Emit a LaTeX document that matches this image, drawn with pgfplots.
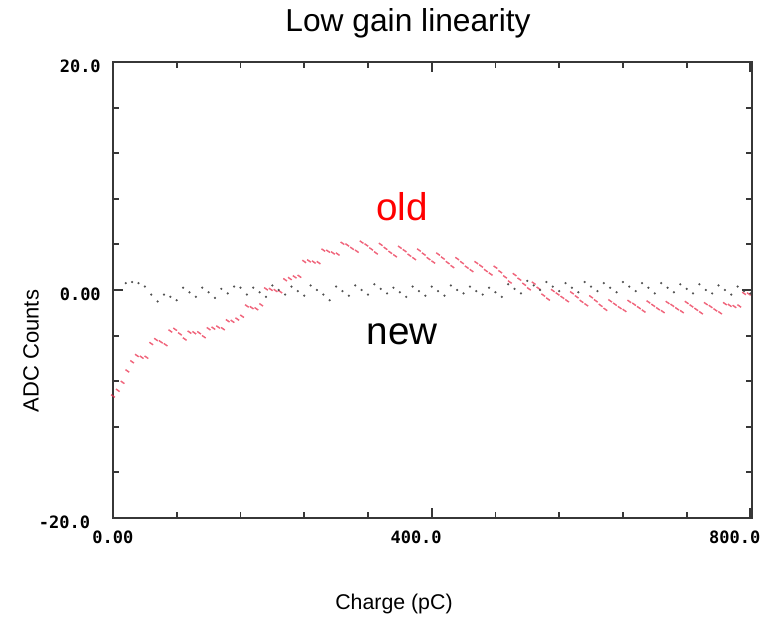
\documentclass[border=0pt]{standalone}
\usepackage{fontspec}
\setmainfont{Liberation Sans}
\newfontfamily\tickfont{DejaVu Sans Mono}
\usepackage{pgfplots}
\pgfplotsset{compat=1.18}

\definecolor{olddots}{RGB}{235,50,80}
\definecolor{newdots}{RGB}{60,60,60}
\definecolor{frame}{RGB}{55,55,55}

\begin{document}
\begin{tikzpicture}
  \begin{axis}[
    at={(0,0)}, anchor=south west,
    scale only axis,
    width=479.25pt, height=342pt,
    xmin=0, xmax=802, ymin=-20, ymax=20,
    clip=false,
    axis line style={frame, line width=1.6pt},
    tick style={frame, line width=1.4pt},
    tick align=inside,
    major tick length=7.5pt,
    minor tick length=4.5pt,
    xtick={0,400,800},
    minor xtick={80,160,240,320,480,560,640,720},
    ytick={-20,0,20},
    minor ytick={-16,-12,-8,-4,4,8,12,16},
    xticklabels={\llap{0}.\rlap{00}, \llap{400}.\rlap{0}, \llap{800}.\rlap{0}},
    yticklabels={-20.0\kern8pt, 0.00, 20.0},
    tick label style={font=\tickfont\bfseries\fontsize{12.75}{14}\selectfont, inner sep=0pt},
    x tick label style={anchor=base, yshift=-19.5pt, xshift=-4pt},
    y tick label style={anchor=east, xshift=-9pt, yshift=-3pt},
  ]
    % old
    \addplot[only marks, mark=-, mark size=1.7pt, color=olddots, opacity=0.75,
      mark options={rotate=-35, line width=1.1pt}] coordinates {
      (0,-9.3) (6,-8.8) (12,-8.1) (18,-7.1) (24,-6.3) (30,-5.75) (36,-5.9) (42,-5.9)
      (48,-4.7) (54,-4.35) (60,-4.55) (66,-4.8) (72,-3.6) (78,-3.45) (84,-3.85) (90,-4.3)
      (96,-3.7) (102,-3.75) (108,-3.75) (114,-4.1) (120,-3.4) (126,-3.35) (132,-3.25) (138,-3.4)
      (144,-2.7) (150,-2.75) (156,-2.55) (162,-2.3) (168,-1.4) (174,-1.55) (180,-1.65) (186,-1.3)
      (192,0.1) (198,0.05) (204,-0.05) (210,-0.15) (216,0.9) (222,1.0) (228,1.15) (234,1.2)
      (240,2.5) (246,2.55) (252,2.45) (258,2.4) (264,3.5) (270,3.4) (276,3.25) (282,3.15)
      (288,4.1) (294,3.95) (300,3.65) (306,3.4) (312,4.2) (318,3.95) (324,3.6) (330,3.25)
      (336,4.0) (342,3.65) (348,3.3) (354,3.0) (360,3.75) (366,3.45) (372,3.05) (378,2.75)
      (384,3.5) (390,3.15) (396,2.75) (402,2.45) (408,3.15) (414,2.8) (420,2.4) (426,2.05)
      (432,2.75) (438,2.4) (444,2.0) (450,1.7) (456,2.4) (462,2.1) (468,1.7) (474,1.4)
      (480,2.0) (486,1.6) (492,1.15) (498,0.7) (504,1.35) (510,0.95) (516,0.5) (522,0.1)
      (528,0.6) (534,0.15) (540,-0.45) (546,-0.8) (552,-0.05) (558,-0.35) (564,-0.65) (570,-0.95)
      (576,-0.25) (582,-0.6) (588,-1.0) (594,-1.3) (600,-0.6) (606,-0.95) (612,-1.35) (618,-1.7)
      (624,-0.95) (630,-1.25) (636,-1.55) (642,-1.8) (648,-1.0) (654,-1.25) (660,-1.55) (666,-1.85)
      (672,-1.05) (678,-1.35) (684,-1.65) (690,-1.9) (696,-1.1) (702,-1.35) (708,-1.65) (714,-1.9)
      (720,-1.1) (726,-1.4) (732,-1.7) (738,-2.0) (744,-1.2) (750,-1.45) (756,-1.75) (762,-2.0)
      (768,-1.2) (774,-1.35) (780,-1.45) (786,-1.4) (792,-0.3) (798,-0.35)
    };
    % new
    \addplot[only marks, mark=*, mark size=0.65pt, color=newdots, opacity=0.75] coordinates {
      (16,0.6) (24,0.7) (32,0.6) (40,0.3) (48,-0.4) (56,-1.0) (64,-0.4) (72,-0.6) (80,-0.9)
      (88,0.2) (96,-0.2) (104,-0.6) (112,0.2) (120,-0.2) (128,-0.7) (136,0.1) (144,-0.3)
      (152,0.3) (160,0.2) (168,-0.4) (176,0.2) (184,-0.2) (192,-0.6) (200,0.4) (208,0.0)
      (216,-0.4) (224,0.3) (232,-0.1) (240,-0.5) (248,0.4) (256,0.0) (264,-0.4) (272,-0.9)
      (280,0.3) (288,-0.1) (296,-0.5) (304,0.4) (312,0.0) (320,-0.4) (328,0.5) (336,0.1)
      (344,-0.3) (352,0.2) (360,-0.2) (368,-0.6) (376,0.3) (384,-0.1) (392,-0.5) (400,0.3)
      (408,-0.1) (416,-0.5) (424,0.4) (432,0.0) (440,-0.3) (448,0.3) (456,-0.1) (464,-0.4)
      (472,0.2) (480,-0.2) (488,-0.6) (496,0.5) (504,0.1) (512,-0.3) (520,0.8) (528,0.4)
      (536,0.0) (544,0.7) (552,0.3) (560,-0.1) (568,0.6) (576,0.2) (584,-0.2) (592,0.7)
      (600,0.3) (608,-0.1) (616,0.6) (624,0.2) (632,-0.2) (640,0.7) (648,0.3) (656,-0.1)
      (664,0.6) (672,0.2) (680,-0.3) (688,0.6) (696,0.2) (704,-0.2) (712,0.5) (720,0.1)
      (728,-0.3) (736,0.5) (744,0.0) (752,-0.3) (760,0.4) (768,0.0) (776,-0.4) (784,0.3)
      (792,-0.1) (800,-0.3)
    };
    \node[anchor=base, font=\fontsize{23.8}{28}\selectfont] at (rel axis cs:0.4617,1.0658) {Low gain linearity};
    \node[rotate=90, font=\fontsize{16.5}{19}\selectfont] at (rel axis cs:-0.1283,0.3662) {ADC Counts};
    \node[anchor=base, font=\fontsize{16}{19}\selectfont] at (rel axis cs:0.4397,-0.1996) {Charge (pC)};
    \node[anchor=base, text=red, font=\fontsize{29}{34}\selectfont] at (rel axis cs:0.4523,0.6513) {old};
    \node[anchor=base, font=\fontsize{29}{34}\selectfont] at (rel axis cs:0.4523,0.3794) {new};
  \end{axis}
  \path (-84.75pt,-76.5pt) rectangle (494.25pt,388.5pt);
\end{tikzpicture}
\end{document}
